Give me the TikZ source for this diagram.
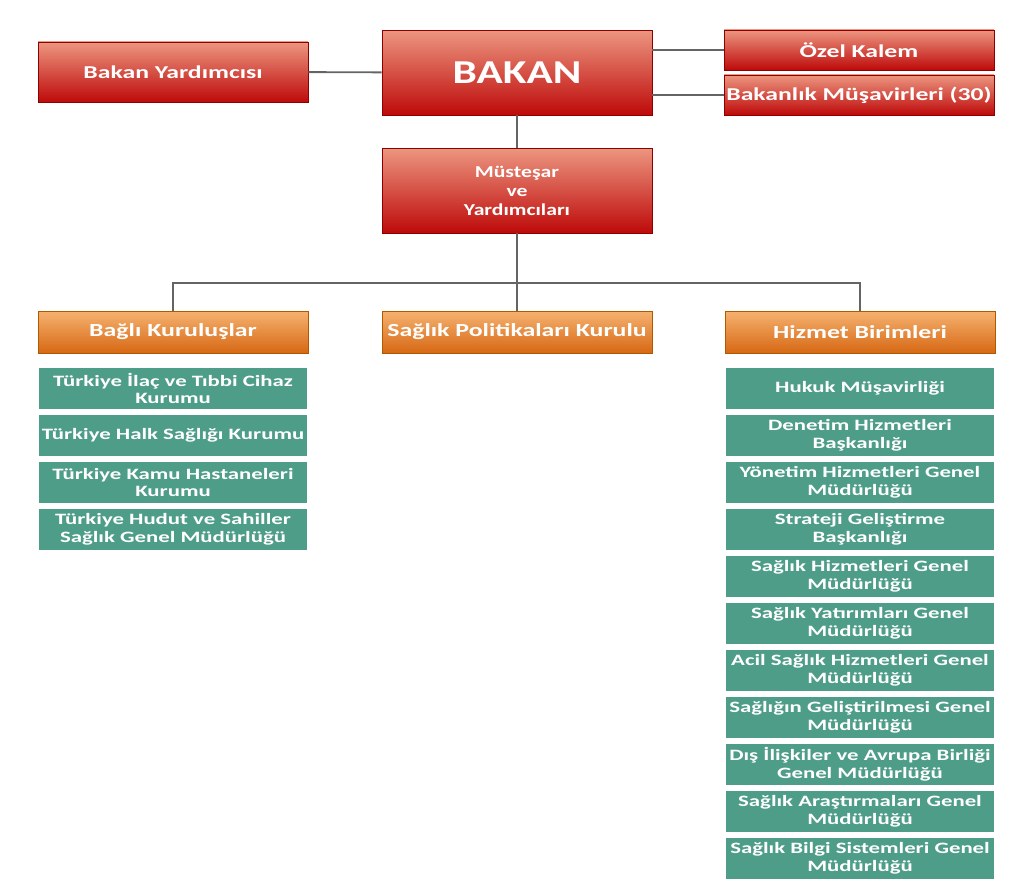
\documentclass[tikz,border=0pt]{standalone}
\usepackage{fontspec}
\setmainfont{Carlito}
\newfontfamily\redfont[FakeStretch=1.42]{Carlito}
\newfontfamily\bigfont[FakeStretch=1.3]{Carlito}
\newfontfamily\widefont[FakeStretch=1.4]{Carlito}
\newfontfamily\unitfont[FakeStretch=1.44]{Carlito}
\usepackage{xcolor}
\usetikzlibrary{positioning}

\definecolor{redtop}{RGB}{236,150,128}
\definecolor{redbot}{RGB}{190,10,10}
\definecolor{orangetop}{RGB}{246,178,112}
\definecolor{orangebot}{RGB}{214,104,20}
\definecolor{unitgreen}{RGB}{78,157,137}
\definecolor{linkgray}{RGB}{100,100,100}

\begin{document}
\begin{tikzpicture}[
      x=0.02cm, y=-0.02cm,
      node distance=0.1cm,
      redbox/.style={rectangle, draw=red!55!black, top color=redtop, bottom color=redbot, text=white, minimum width=5.4cm, align=center, inner sep=0pt, font=\redfont\fontsize{10.3}{11.5}\selectfont\bfseries},
      orangebox/.style={rectangle, draw=orange!70!black, top color=orangetop, bottom color=orangebot, text=white, minimum width=5.4cm, minimum height=0.84cm, align=center, inner sep=0pt, font=\widefont\fontsize{10.5}{12}\selectfont\bfseries},
      unitbox/.style={rectangle, draw=white, line width=0.6pt, outer sep=0pt, fill=unitgreen, text=white, minimum width=5.4cm, minimum height=0.84cm, align=center, inner sep=0pt, font=\unitfont\fontsize{9}{9.8}\selectfont\bfseries},
      link/.style={draw=linkgray, line width=1.1pt}
    ]
      \useasboundingbox (0,0) rectangle (1035,891);

      % Top level
      \node[redbox, minimum height=1.7cm, font=\bigfont\fontsize{19}{22}\selectfont\bfseries] (bakan) at (517,72.5) {BAKAN};
      \node[redbox, minimum height=1.2cm] (yardimci) at (173,72) {Bakan Yardımcısı};
      \node[redbox, minimum height=0.8cm] (ozel) at (859,50) {Özel Kalem};
      \node[redbox, minimum height=0.8cm] (musavir) at (859,95) {Bakanlık Müşavirleri (30)};
      \node[redbox, minimum height=1.7cm, font=\bigfont\fontsize{9.5}{10.8}\selectfont\bfseries] (mustesar) at (517,190.5) {Müsteşar\\ve\\Yardımcıları};

      % Second level
      \node[orangebox] (bagli) at (173,332) {Bağlı Kuruluşlar};
      \node[orangebox] (politika) at (517,332) {Sağlık Politikaları Kurulu};
      \node[orangebox] (hizmet) at (860,332) {Hizmet Birimleri};

      % Bagli kuruluslar
      \node[unitbox, below=0.28cm of bagli] (kur1) {Türkiye İlaç ve Tıbbi Cihaz\\Kurumu};
      \node[unitbox, below=of kur1] (kur2) {Türkiye Halk Sağlığı Kurumu};
      \node[unitbox, below=of kur2] (kur3) {Türkiye Kamu Hastaneleri\\Kurumu};
      \node[unitbox, below=of kur3] (kur4) {Türkiye Hudut ve Sahiller\\Sağlık Genel Müdürlüğü};

      % Hizmet birimleri
      \node[unitbox, below=0.28cm of hizmet] (hiz1) {Hukuk Müşavirliği};
      \node[unitbox, below=of hiz1] (hiz2) {Denetim Hizmetleri\\Başkanlığı};
      \node[unitbox, below=of hiz2] (hiz3) {Yönetim Hizmetleri Genel\\Müdürlüğü};
      \node[unitbox, below=of hiz3] (hiz4) {Strateji Geliştirme\\Başkanlığı};
      \node[unitbox, below=of hiz4] (hiz5) {Sağlık Hizmetleri Genel\\Müdürlüğü};
      \node[unitbox, below=of hiz5] (hiz6) {Sağlık Yatırımları Genel\\Müdürlüğü};
      \node[unitbox, below=of hiz6] (hiz7) {Acil Sağlık Hizmetleri Genel\\Müdürlüğü};
      \node[unitbox, below=of hiz7] (hiz8) {Sağlığın Geliştirilmesi Genel\\Müdürlüğü};
      \node[unitbox, below=of hiz8] (hiz9) {Dış İlişkiler ve Avrupa Birliği\\Genel Müdürlüğü};
      \node[unitbox, below=of hiz9] (hiz10) {Sağlık Araştırmaları Genel\\Müdürlüğü};
      \node[unitbox, below=of hiz10] (hiz11) {Sağlık Bilgi Sistemleri Genel\\Müdürlüğü};

      % Connectors
      \coordinate (bus) at (517,283);
      \draw[link] (bakan) -- (yardimci);
      \draw[link] (ozel.west) -- (ozel.west -| bakan.east);
      \draw[link] (musavir.west) -- (musavir.west -| bakan.east);
      \draw[link] (bakan) -- (mustesar);
      \draw[link] (mustesar) -- (bus);
      \draw[link] (bagli.north) |- (bus) -| (hizmet.north);
      \draw[link] (bus) -- (politika);
    \end{tikzpicture}
\end{document}
